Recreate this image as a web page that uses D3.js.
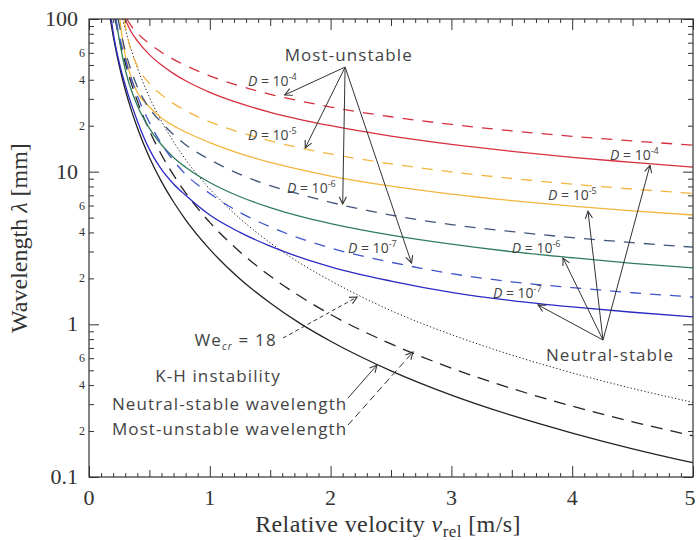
<!DOCTYPE html>
<html>
<head>
<meta charset="utf-8">
<script src="https://cdn.jsdelivr.net/npm/d3@7"></script>
<style>
  body { margin: 0; background: #fff; }
  svg { display: block; }
</style>
</head>
<body>
<div id="chart"></div>
<script>
// Set Dimensions
const width = 696;
const height = 540;
const margin = {top: 19, right: 3, bottom: 63, left: 89};
const xMax = width - margin.left - margin.right;
const yMax = height - margin.top - margin.bottom;

// Data: relative velocity [m/s] and wavelength [mm]
// K-H instability, no diffusion
const vKhNeutral = [0.176, 0.2, 0.25, 0.3, 0.35, 0.4, 0.5, 0.6, 0.7, 0.8, 1, 1.25, 1.5, 1.75, 2, 2.5, 3, 3.5, 4, 4.5, 5];
const khNeutral = [100, 77.5, 49.6, 34.4, 25.3, 19.4, 12.4, 8.61, 6.33, 4.84, 3.1, 1.98, 1.38, 1.01, 0.775, 0.496, 0.344, 0.253, 0.194, 0.153, 0.124];
const vKhMost = [0.216, 0.25, 0.3, 0.35, 0.4, 0.5, 0.6, 0.7, 0.8, 1, 1.25, 1.5, 1.75, 2, 2.5, 3, 3.5, 4, 4.5, 5];
const khMost = [100, 74.4, 51.7, 38.0, 29.1, 18.6, 12.9, 9.49, 7.27, 4.65, 2.98, 2.07, 1.52, 1.16, 0.744, 0.517, 0.380, 0.291, 0.230, 0.186];
// We_cr = 18
const vWe = [0.2775, 0.3, 0.35, 0.4, 0.5, 0.6, 0.7, 0.8, 1, 1.25, 1.5, 1.75, 2, 2.5, 3, 3.5, 4, 4.5, 5];
const weCr = [100, 85.6, 62.9, 48.1, 30.8, 21.4, 15.7, 12.0, 7.7, 4.93, 3.42, 2.51, 1.93, 1.23, 0.856, 0.629, 0.481, 0.380, 0.308];

// D = 1e-4
const vD4Neutral = [0.298, 0.35, 0.4, 0.5, 0.6, 0.7, 0.8, 1, 1.25, 1.5, 1.75, 2, 2.5, 3, 3.5, 4, 4.5, 5];
const d4Neutral = [100, 82.2, 71.9, 58.4, 49.9, 43.9, 39.4, 33.1, 28.0, 24.5, 21.95, 20.0, 17.1, 15.1, 13.6, 12.4, 11.5, 10.7];
const vD4Most = [0.313, 0.35, 0.4, 0.5, 0.6, 0.7, 0.8, 1, 1.25, 1.5, 1.75, 2, 2.5, 3, 3.5, 4, 4.5, 5];
const d4Most = [100, 90, 80.9, 68.9, 60.6, 54.4, 49.6, 42.4, 36.4, 32.1, 29.0, 26.5, 22.9, 20.4, 18.5, 17.05, 15.9, 14.9];
// D = 1e-5
const vD5Neutral = [0.255, 0.27, 0.3, 0.35, 0.4, 0.5, 0.6, 0.7, 0.8, 1, 1.25, 1.5, 1.75, 2, 2.5, 3, 3.5, 4, 4.5, 5];
const d5Neutral = [100, 80, 58, 41, 33, 26.5, 22.5, 20, 18.2, 15.5, 13.15, 11.5, 10.3, 9.36, 8.04, 7.13, 6.46, 5.95, 5.54, 5.2];
const vD5Most = [0.29, 0.3, 0.32, 0.35, 0.4, 0.5, 0.6, 0.7, 0.8, 1, 1.25, 1.5, 1.75, 2, 2.5, 3, 3.5, 4, 4.5, 5];
const d5Most = [100, 90.5, 75.5, 61.5, 49, 37.9, 31.9, 27.9, 25.1, 21.2, 18.1, 15.9, 14.3, 13.06, 11.25, 9.97, 9.02, 8.28, 7.69, 7.2];
// D = 1e-6
const vD6Neutral = [0.223, 0.25, 0.3, 0.4, 0.5, 0.6, 0.7, 0.8, 1, 1.25, 1.5, 1.75, 2, 2.5, 3, 3.5, 4, 4.5, 5];
const d6Neutral = [100, 73.7, 46.7, 27.1, 19.2, 15.0, 12.4, 10.7, 8.49, 6.85, 5.82, 5.09, 4.57, 3.84, 3.35, 2.99, 2.73, 2.51, 2.34];
const vD6Most = [0.24, 0.3, 0.4, 0.5, 0.6, 0.7, 0.8, 1, 1.25, 1.5, 1.75, 2, 2.5, 3, 3.5, 4, 4.5, 5];
const d6Most = [100, 62, 36, 26, 21, 17.5, 15, 12, 9.6, 8.1, 7.1, 6.3, 5.2, 4.5, 4.05, 3.7, 3.43, 3.2];
// D = 1e-7
const vD7Neutral = [0.185, 0.2, 0.25, 0.3, 0.4, 0.5, 0.58, 0.7, 0.8, 1, 1.25, 1.5, 2, 2.5, 3, 3.5, 4, 4.5, 5];
const d7Neutral = [100, 82, 52, 37, 21.5, 14, 10.9, 8.3, 7.0, 5.2, 4.0, 3.25, 2.38, 1.92, 1.62, 1.43, 1.30, 1.20, 1.12];
const vD7Most = [0.22, 0.25, 0.3, 0.4, 0.5, 0.6, 0.7, 0.8, 1, 1.25, 1.5, 2, 2.5, 3, 3.5, 4, 4.5, 5];
const d7Most = [100, 78, 55, 31.5, 21, 15.2, 11.8, 9.6, 7.2, 5.4, 4.35, 3.16, 2.55, 2.15, 1.9, 1.74, 1.61, 1.51];

// Tick labels
const xTicks = [0, 1, 2, 3, 4, 5];
const yMajorTicks = [0.1, 1, 10, 100];
const yMajorLabels = ["0.1", "1", "10", "100"];
const yMinorLabelled = [2, 4, 6];

// Series table built from the arrays above
const series = [
  {v: vKhNeutral, lam: khNeutral, color: "#222", dash: null},
  {v: vKhMost, lam: khMost, color: "#222", dash: "12,8"},
  {v: vWe, lam: weCr, color: "#222", dash: "1.3,2.2", w: 1},
  {v: vD4Neutral, lam: d4Neutral, color: "#d6303f", dash: null},
  {v: vD4Most, lam: d4Most, color: "#d6303f", dash: "11,9"},
  {v: vD5Neutral, lam: d5Neutral, color: "#f3b53e", dash: null},
  {v: vD5Most, lam: d5Most, color: "#f3b53e", dash: "11,9"},
  {v: vD6Neutral, lam: d6Neutral, color: "#2f7d5c", dash: null},
  {v: vD6Most, lam: d6Most, color: "#3f5577", dash: "11,9"},
  {v: vD7Neutral, lam: d7Neutral, color: "#2a2ac4", dash: null},
  {v: vD7Most, lam: d7Most, color: "#3f55cc", dash: "11,9"}
];

// Annotation arrows (data units: [v, lambda])
const muOrigin = [2.12, 48.4];
const muTargets = [[1.62, 31.8], [1.79, 14.3], [2.10, 6.14], [2.67, 2.52]];
const nsOrigin = [4.255, 0.789];
const nsTargets = [[3.717, 1.34], [3.924, 2.72], [4.131, 5.5], [4.644, 11]];
const weArrow = [[1.606, 0.813], [2.219, 1.51]];
const khSolidArrow = [[2.144, 0.329], [2.384, 0.541]];
const khDashedArrow = [[2.144, 0.219], [2.682, 0.659]];

// D labels: [v, lambda, exponent]
const muLabels = [[1.316, 36.4, "-4"], [1.316, 16.1, "-5"], [1.639, 7.24, "-6"], [2.144, 2.93, "-7"]];
const nsLabels = [[4.313, 11.9, "-4"], [3.80, 6.5, "-5"], [3.50, 2.93, "-6"], [3.344, 1.49, "-7"]];

const svgRoot = d3.select("#chart")
  .append("svg")
  .attr("width", width)
  .attr("height", height);

const svg = svgRoot.append("g")
  .attr("transform", "translate(" + margin.left + "," + margin.top + ")");

// Scales
const x = d3.scaleLinear().domain([0, 5]).range([0, xMax]);
const y = d3.scaleLog().domain([0.1, 100]).range([yMax, 0]);

// Arrow marker
const defs = svgRoot.append("defs");
defs.append("marker")
  .attr("id", "arr")
  .attr("markerUnits", "userSpaceOnUse")
  .attr("viewBox", "0 0 10 10")
  .attr("refX", 9).attr("refY", 5)
  .attr("markerWidth", 9).attr("markerHeight", 9)
  .attr("orient", "auto")
  .append("path")
  .attr("d", "M1,1 L9,5 L1,9")
  .attr("fill", "none")
  .attr("stroke", "#333")
  .attr("stroke-width", 1.2);

defs.append("clipPath").attr("id", "plotClip")
  .append("rect").attr("width", xMax).attr("height", yMax);

// Curves
const line = d3.line()
  .x(d => x(d[0]))
  .y(d => y(d[1]))
  .curve(d3.curveMonotoneX);

const curves = svg.append("g").attr("clip-path", "url(#plotClip)");
series.forEach(s => {
  curves.append("path")
    .datum(s.v.map((v, i) => [v, s.lam[i]]))
    .attr("d", line)
    .attr("fill", "none")
    .attr("stroke", s.color)
    .attr("stroke-width", s.w || 1.3)
    .attr("stroke-dasharray", s.dash);
});

// Axes
const xMinor = d3.range(1, 50).map(i => i / 10).filter(d => Math.round(d * 10) % 5 !== 0);
const xHalf = [0.5, 1.5, 2.5, 3.5, 4.5];
const yMinor = [];
[0.1, 1, 10].forEach(dec => d3.range(2, 10).forEach(k => yMinor.push(+(k * dec).toPrecision(3))));

function tickAxis(axisFn, scale, values, size, cls, transform) {
  const g = svg.append("g")
    .attr("class", cls)
    .attr("transform", transform)
    .call(axisFn(scale).tickValues(values).tickSize(-size).tickFormat(""));
  g.select(".domain").remove();
  g.selectAll("line").attr("stroke", "#333");
  return g;
}

tickAxis(d3.axisBottom, x, xMinor, 4, "x-minor", `translate(0,${yMax})`);
tickAxis(d3.axisBottom, x, xHalf, 7, "x-half", `translate(0,${yMax})`);
tickAxis(d3.axisBottom, x, xTicks, 11, "x-major", `translate(0,${yMax})`);
tickAxis(d3.axisTop, x, xMinor, 4, "x-minor-top", "translate(0,0)");
tickAxis(d3.axisTop, x, xHalf, 7, "x-half-top", "translate(0,0)");
tickAxis(d3.axisTop, x, xTicks, 11, "x-major-top", "translate(0,0)");
tickAxis(d3.axisLeft, y, yMinor, 5, "y-minor", "translate(0,0)");
tickAxis(d3.axisLeft, y, yMajorTicks, 10, "y-major", "translate(0,0)");
tickAxis(d3.axisRight, y, yMinor, 5, "y-minor-r", `translate(${xMax},0)`);
tickAxis(d3.axisRight, y, yMajorTicks, 10, "y-major-r", `translate(${xMax},0)`);

// Frame
svg.append("rect")
  .attr("width", xMax).attr("height", yMax)
  .attr("fill", "none")
  .attr("stroke", "#333")
  .attr("stroke-width", 1.2);

// Tick labels
const serif = "'Liberation Serif', 'Times New Roman', serif";
svg.append("g").selectAll("text")
  .data(xTicks)
  .enter().append("text")
  .attr("x", d => x(d) - (d === 5 ? 3 : 0))
  .attr("y", yMax + 28)
  .attr("text-anchor", "middle")
  .style("font-family", serif)
  .style("font-size", "22px")
  .attr("fill", "#333")
  .text(d => d);

svg.append("g").selectAll("text")
  .data(yMajorTicks)
  .enter().append("text")
  .attr("x", -11)
  .attr("y", d => y(d) + 7)
  .attr("text-anchor", "end")
  .style("font-family", serif)
  .style("font-size", "22px")
  .attr("fill", "#333")
  .text((d, i) => yMajorLabels[i]);

const yMinorLab = [];
[0.1, 1, 10].forEach(dec => yMinorLabelled.forEach(k => yMinorLab.push([k, k * dec])));
svg.append("g").selectAll("text")
  .data(yMinorLab)
  .enter().append("text")
  .attr("x", -4)
  .attr("y", d => y(d[1]) + 4)
  .attr("text-anchor", "end")
  .style("font-family", serif)
  .style("font-size", "12px")
  .attr("fill", "#333")
  .text(d => d[0]);

// Axis titles
const xTitle = svg.append("text")
  .attr("x", xMax / 2 - 3)
  .attr("y", yMax + 55)
  .attr("text-anchor", "middle")
  .style("font-family", serif)
  .style("font-size", "24px")
  .style("letter-spacing", "0.4px")
  .attr("fill", "#333");
xTitle.append("tspan").text("Relative velocity ");
xTitle.append("tspan").style("font-style", "italic").text("v");
xTitle.append("tspan").attr("dy", 5).style("font-size", "17px").text("rel");
xTitle.append("tspan").attr("dy", -5).text(" [m/s]");

const yTitle = svg.append("text")
  .attr("transform", `translate(${-62},${yMax / 2 - 10}) rotate(-90)`)
  .attr("text-anchor", "middle")
  .style("font-family", serif)
  .style("font-size", "24px")
  .attr("fill", "#333");
yTitle.append("tspan").text("Wavelength ");
yTitle.append("tspan").style("font-style", "italic").text("λ");
yTitle.append("tspan").text(" [mm]");

// Annotations
const sans = "'Open Sans', 'Noto Sans', sans-serif";
const ann = svg.append("g").attr("fill", "#444");

function arrow(from, to, dash) {
  ann.append("line")
    .attr("x1", x(from[0])).attr("y1", y(from[1]))
    .attr("x2", x(to[0])).attr("y2", y(to[1]))
    .attr("stroke", "#333")
    .attr("stroke-width", 1)
    .attr("stroke-dasharray", dash || null)
    .attr("marker-end", "url(#arr)");
}
muTargets.forEach(t => arrow(muOrigin, t));
nsTargets.forEach(t => arrow(nsOrigin, t));
arrow(weArrow[0], weArrow[1], "4,3");
arrow(khSolidArrow[0], khSolidArrow[1]);
arrow(khDashedArrow[0], khDashedArrow[1], "7,4");

function dLabel(d) {
  const t = ann.append("text")
    .attr("x", x(d[0])).attr("y", y(d[1]))
    .style("font-family", sans)
    .style("font-size", "14px");
  t.append("tspan").style("font-style", "italic").text("D");
  t.append("tspan").text(" = 10");
  t.append("tspan").attr("dy", -6).style("font-size", "9px").text(d[2]);
}
muLabels.forEach(dLabel);
nsLabels.forEach(dLabel);

function plainLabel(v, lam, txt, anchor) {
  return ann.append("text")
    .attr("x", x(v)).attr("y", y(lam))
    .attr("text-anchor", anchor)
    .style("font-family", sans)
    .style("font-size", "17px")
    .style("letter-spacing", "1.1px")
    .text(txt);
}
plainLabel(2.15, 53, "Most-unstable", "middle");
plainLabel(4.313, 0.575, "Neutral-stable", "middle");
plainLabel(1.068, 0.419, "K-H instability", "middle");
plainLabel(0.19, 0.275, "Neutral-stable wavelength", "start");
plainLabel(0.19, 0.188, "Most-unstable wavelength", "start");

const weLab = ann.append("text")
  .attr("x", x(1.556)).attr("y", y(0.721))
  .attr("text-anchor", "end")
  .style("font-family", sans)
  .style("font-size", "17px")
  .style("letter-spacing", "1.2px");
weLab.append("tspan").text("We");
weLab.append("tspan").attr("dy", 4).style("font-size", "10px").style("font-style", "italic").text("cr");
weLab.append("tspan").attr("dy", -4).text(" = 18");
</script>
</body>
</html>
